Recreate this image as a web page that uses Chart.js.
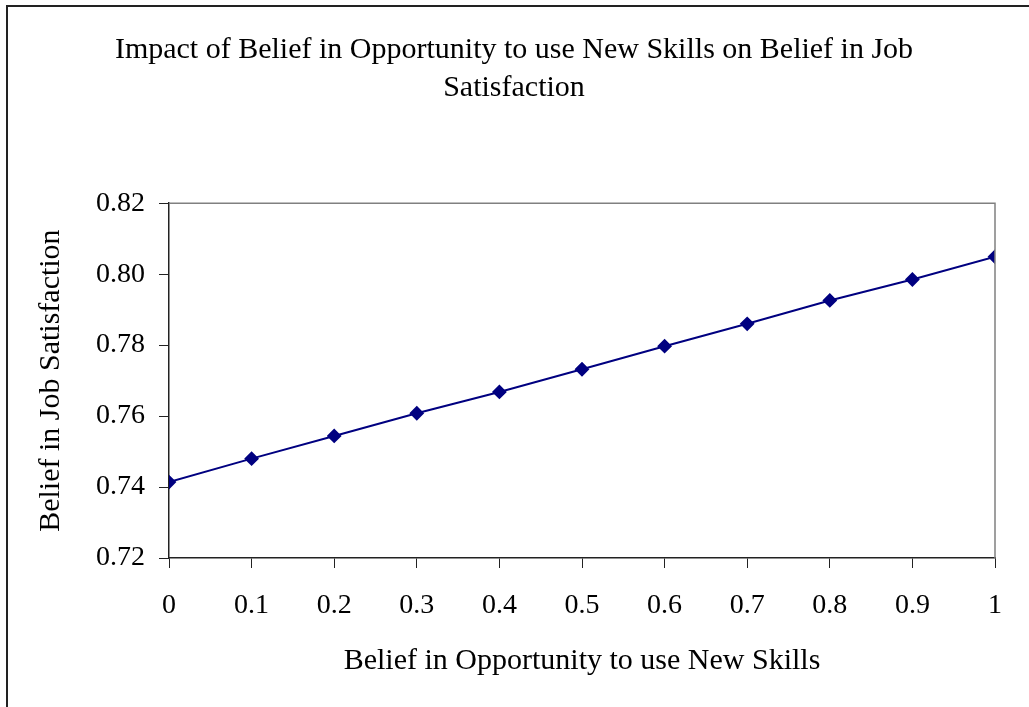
<!DOCTYPE html>
<html>
<head>
<meta charset="utf-8">
<script src="https://cdn.jsdelivr.net/npm/chart.js@4/dist/chart.umd.min.js"></script>
<style>
  html, body { margin: 0; padding: 0; background: #fff; }
  #wrap { width: 1029px; height: 707px; position: relative; }
</style>
</head>
<body>
<div id="wrap"><canvas id="beliefChart"></canvas></div>
<script>
// values
const opportunity = [0, 0.1, 0.2, 0.3, 0.4, 0.5, 0.6, 0.7, 0.8, 0.9, 1];
const satisfaction = [0.7414, 0.748, 0.7544, 0.7608, 0.7668, 0.7732, 0.7797, 0.786, 0.7926, 0.7985, 0.8049];
const titleLines = ['Impact of Belief in Opportunity to use New Skills on Belief in Job', 'Satisfaction'];
const xTitle = 'Belief in Opportunity to use New Skills';
const yTitle = 'Belief in Job Satisfaction';

const serif = 'Liberation Serif';

// grey top/right frame of the plot area plus the outer chart border
const framePlugin = {
    id: 'framePlugin',
    afterDraw: (chart) => {
        const ctx = chart.ctx;
        const { top, right, bottom, left } = chart.chartArea;
        ctx.save();
        ctx.strokeStyle = '#808080';
        ctx.lineWidth = 1.5;
        ctx.beginPath();
        ctx.moveTo(left, top);
        ctx.lineTo(right, top);
        ctx.lineTo(right, bottom);
        ctx.stroke();

        ctx.strokeStyle = '#222';
        ctx.lineWidth = 2;
        ctx.beginPath();
        ctx.moveTo(7, chart.height + 5);
        ctx.lineTo(7, 6);
        ctx.lineTo(chart.width + 5, 6);
        ctx.stroke();
        ctx.restore();
    }
};

const ctx = document.getElementById('beliefChart').getContext('2d');
const beliefChart = new Chart(ctx, {
    type: 'line',
    data: {
        datasets: [{
            label: yTitle,
            data: opportunity.map((x, i) => ({ x: x, y: satisfaction[i] })),
            borderColor: '#000080',
            backgroundColor: '#000080',
            borderWidth: 2,
            pointStyle: 'rectRot',
            pointRadius: 6,
            pointHoverRadius: 6,
            fill: false,
            tension: 0
        }]
    },
    options: {
        responsive: true,
        maintainAspectRatio: false,
        animation: false,
        layout: {
            padding: { left: 33, right: 34, top: 0, bottom: 0 }
        },
        scales: {
            x: {
                type: 'linear',
                min: 0,
                max: 1,
                grid: {
                    drawOnChartArea: false,
                    drawTicks: true,
                    tickLength: 10,
                    color: '#222'
                },
                border: { color: '#222', width: 1.5 },
                ticks: {
                    stepSize: 0.1,
                    color: '#000',
                    padding: 21,
                    maxRotation: 0,
                    font: { family: serif, size: 28 },
                    callback: (v) => String(Number(v.toFixed(1)))
                },
                title: {
                    display: true,
                    text: xTitle,
                    color: '#000',
                    font: { family: serif, size: 30 },
                    padding: { top: 0, bottom: 28 }
                },
                afterFit: (scale) => { scale.height = 149; }
            },
            y: {
                min: 0.72,
                max: 0.82,
                grid: {
                    drawOnChartArea: false,
                    drawTicks: true,
                    tickLength: 10,
                    color: '#222'
                },
                border: { color: '#222', width: 1.5 },
                ticks: {
                    stepSize: 0.02,
                    color: '#000',
                    padding: 14,
                    font: { family: serif, size: 28 },
                    callback: (v) => v.toFixed(2)
                },
                title: {
                    display: true,
                    text: yTitle,
                    color: '#000',
                    font: { family: serif, size: 30 },
                    padding: { top: 0, bottom: 0 }
                },
                afterFit: (scale) => { scale.width = 136; }
            }
        },
        plugins: {
            legend: { display: false },
            tooltip: { enabled: false },
            title: {
                display: true,
                text: titleLines,
                color: '#000',
                font: { family: serif, size: 30, weight: 'normal', lineHeight: 1.27 },
                padding: { top: 31, bottom: 96 }
            }
        }
    },
    plugins: [framePlugin]
});
</script>
</body>
</html>
